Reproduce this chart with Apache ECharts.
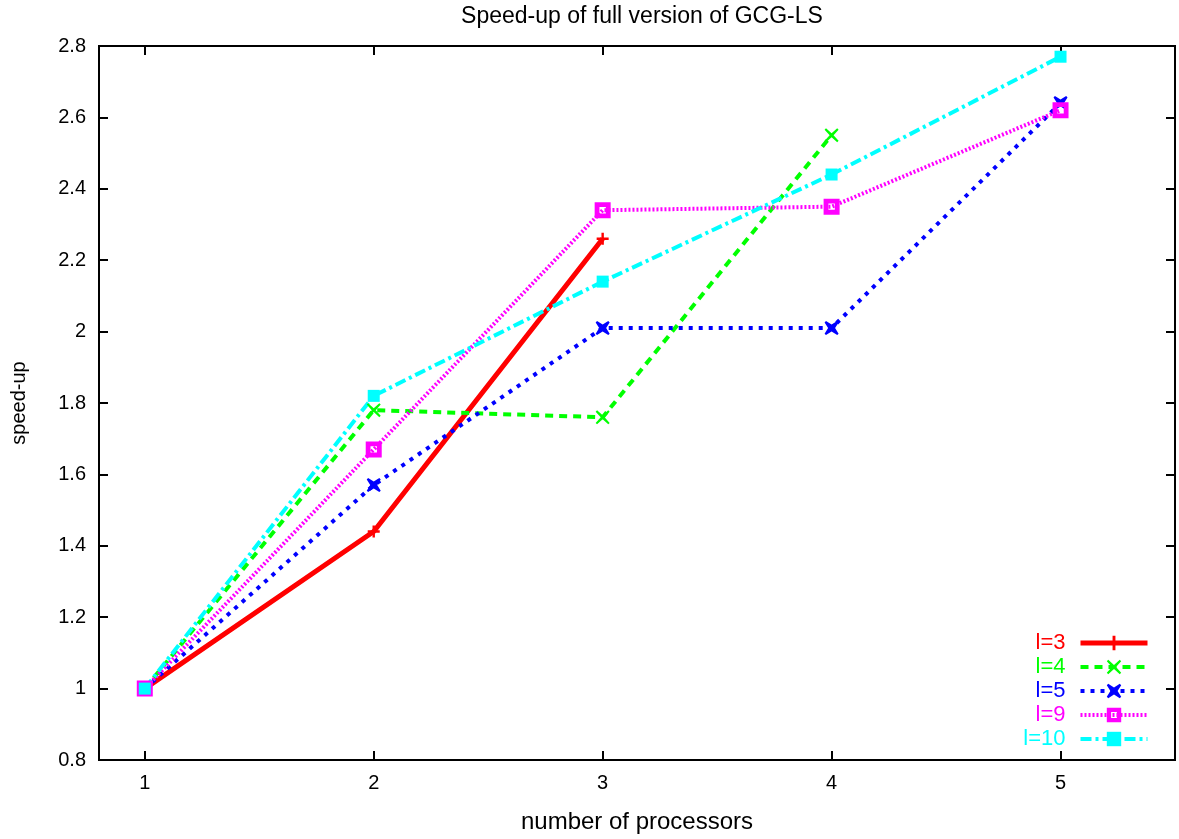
<!DOCTYPE html>
<html>
<head>
<meta charset="utf-8">
<script src="https://cdn.jsdelivr.net/npm/echarts@6/dist/echarts.min.js"></script>
<style>
  html, body { margin: 0; padding: 0; background: #fff; }
  #main { width: 1179px; height: 839px; }
</style>
</head>
<body>
<div id="main"></div>
<script>
// processors on the x axis
const processors = [1, 2, 3, 4, 5]
// speed-up per l value
const speedL3 = [1, 1.44, 2.26]
const speedL4 = [1, 1.78, 1.76, 2.55]
const speedL5 = [1, 1.57, 2.01, 2.01, 2.64]
const speedL9 = [1, 1.67, 2.34, 2.35, 2.62]
const speedL10 = [1, 1.82, 2.14, 2.44, 2.77]
const yTicks = [0.8, 1, 1.2, 1.4, 1.6, 1.8, 2, 2.2, 2.4, 2.6, 2.8]

const font = 'Liberation Sans, Arial, sans-serif'
const pair = arr => arr.map((v, i) => [processors[i], v])

// gnuplot style point types
const plusPath = 'path://M4,0H6V4H10V6H6V10H4V6H0V4H4Z'
const crossPath = 'path://M1,0L5,3.6L9,0L10,1L6.4,5L10,9L9,10L5,6.4L1,10L0,9L3.6,5L0,1Z'
const starPath = 'path://M1,0L5,2.5L9,0L10,1L7.5,5L10,9L9,10L5,7.5L1,10L0,9L2.5,5L0,1Z'
const squarePath = 'path://M0,0H10V10H0Z M3,3V7H7V3Z'

const lines = [
  { name: 'l=3', data: speedL3, color: '#ff0000', type: 'solid', width: 5, symbol: plusPath, size: 12 },
  { name: 'l=4', data: speedL4, color: '#00ff00', type: [8, 6], width: 4, symbol: crossPath, size: 14 },
  { name: 'l=5', data: speedL5, color: '#0000ff', type: [4, 6], width: 4, symbol: starPath, size: 14 },
  { name: 'l=9', data: speedL9, color: '#ff00ff', type: [2, 2], width: 4, symbol: squarePath, size: 16 },
  { name: 'l=10', data: speedL10, color: '#00ffff', type: [11, 4, 3, 4], width: 4, symbol: 'rect', size: 12 }
]

const chart = echarts.init(document.getElementById('main'))

const options = {
  backgroundColor: '#fff',
  animation: false,
  title: {
    text: 'Speed-up of full version of GCG-LS',
    left: 637,
    textAlign: 'center',
    top: 0,
    textStyle: { fontFamily: font, fontSize: 23, fontWeight: 'normal', color: '#000' }
  },
  grid: {
    left: 99, right: 4, top: 46, bottom: 79,
    outerBoundsMode: 'none',
    show: true, borderColor: '#000', borderWidth: 2
  },
  legend: {
    orient: 'vertical',
    right: 24,
    bottom: 83,
    align: 'right',
    itemGap: 0,
    itemWidth: 67,
    itemHeight: 18,
    data: lines.map(l => ({
      name: l.name,
      lineStyle: { color: l.color, width: l.width, type: l.type },
      textStyle: {
        color: l.color, fontFamily: font, fontSize: 22, lineHeight: 24,
        width: 48, align: 'right', padding: [0, 10, 0, 0]
      }
    }))
  },
  xAxis: [
    {
      type: 'value',
      min: 0.8,
      max: 5.5,
      name: 'number of processors',
      nameLocation: 'middle',
      nameGap: 50,
      nameTextStyle: { fontFamily: font, fontSize: 24, color: '#000' },
      axisLine: { show: false },
      splitLine: { show: false },
      axisTick: { inside: true, length: 9, lineStyle: { color: '#000', width: 2 }, customValues: processors },
      axisLabel: { fontFamily: font, fontSize: 20, color: '#000', margin: 13, customValues: processors }
    },
    {
      type: 'value',
      position: 'top',
      min: 0.8,
      max: 5.5,
      axisLine: { show: false },
      splitLine: { show: false },
      axisTick: { inside: true, length: 9, lineStyle: { color: '#000', width: 2 }, customValues: processors },
      axisLabel: { show: false }
    }
  ],
  yAxis: [
    {
      type: 'value',
      min: 0.8,
      max: 2.8,
      name: 'speed-up',
      nameLocation: 'middle',
      nameGap: 70,
      nameTextStyle: { fontFamily: font, fontSize: 20, color: '#000' },
      axisLine: { show: false },
      splitLine: { show: false },
      axisTick: { inside: true, length: 9, lineStyle: { color: '#000', width: 2 }, customValues: yTicks },
      axisLabel: {
        fontFamily: font, fontSize: 20, color: '#000', margin: 13,
        customValues: yTicks,
        formatter: v => String(+v.toFixed(1))
      }
    },
    {
      type: 'value',
      position: 'right',
      min: 0.8,
      max: 2.8,
      axisLine: { show: false },
      splitLine: { show: false },
      axisTick: { inside: true, length: 9, lineStyle: { color: '#000', width: 2 }, customValues: yTicks },
      axisLabel: { show: false }
    }
  ],
  series: lines.map(l => ({
    name: l.name,
    type: 'line',
    data: pair(l.data),
    color: l.color,
    symbol: l.symbol,
    symbolSize: l.size,
    showAllSymbol: true,
    lineStyle: { color: l.color, width: l.width, type: l.type },
    itemStyle: { color: l.color },
    emphasis: { disabled: true }
  }))
}
chart.setOption(options)
</script>
</body>
</html>
